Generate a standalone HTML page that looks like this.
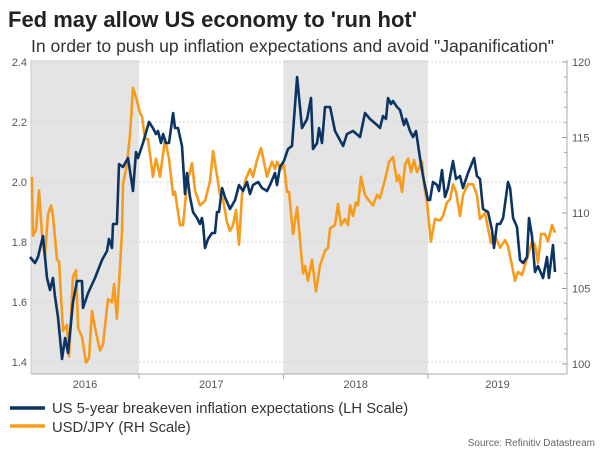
<!DOCTYPE html>
<html><head><meta charset="utf-8"><style>
body{margin:0;background:#fff;font-family:"Liberation Sans",sans-serif}
#wrap{position:relative;width:600px;height:450px;overflow:hidden}
</style></head><body>
<div id="wrap">
<svg id="chart" width="600" height="450" font-family="Liberation Sans, sans-serif">
<text x="8" y="27" font-size="22" font-weight="bold" fill="#222">Fed may allow US economy to 'run hot'</text>
<text x="31" y="52" font-size="17.6" fill="#333">In order to push up inflation expectations and avoid "Japanification"</text>
<g id="plot"></g>
<line x1="10" y1="408" x2="45" y2="408" stroke="#0b3463" stroke-width="3.5"/>
<text x="52" y="413" font-size="14.8" fill="#333">US 5-year breakeven inflation expectations (LH Scale)</text>
<line x1="10" y1="426" x2="45" y2="426" stroke="#f89b1c" stroke-width="3.5"/>
<text x="52" y="432" font-size="14.8" fill="#333">USD/JPY (RH Scale)</text>
<text x="595" y="446" font-size="10" fill="#666" text-anchor="end">Source: Refinitiv Datastream</text>
</svg>
</div>
<script>
// months since Jan 2016
const blueMonths=[2.95,3.36,3.61,4.03,4.36,4.61,4.86,5.02,5.27,5.61,5.86,6.11,6.52,6.85,7.27,7.35,7.77,8.35,8.93,9.34,9.51,9.76,9.84,10.17,10.34,10.67,11.09,11.50,11.75,11.92,12.33,12.83,13.16,13.41,13.58,13.83,14.00,14.24,14.49,14.83,14.99,15.24,15.57,15.82,15.99,16.24,16.49,16.82,17.07,17.23,17.32,17.48,17.73,18.07,18.31,18.48,18.65,18.90,19.14,19.56,19.98,20.31,20.64,20.97,21.22,21.47,21.89,22.22,22.63,22.88,23.30,23.46,23.71,24.04,24.38,24.71,25.13,25.54,25.96,26.29,26.45,26.79,26.95,27.20,27.45,27.87,28.28,28.95,29.28,29.78,30.36,30.77,31.19,31.77,32.02,32.27,32.52,32.68,32.93,33.10,33.43,33.68,34.01,34.18,34.51,34.76,35.01,35.34,35.59,36.00,36.17,36.42,36.75,36.92,37.17,37.42,37.67,38.08,38.33,38.66,38.91,39.33,39.83,40.07,40.32,40.57,40.99,41.32,41.49,41.74,41.99,42.24,42.65,42.82,43.07,43.40,43.65,43.90,44.23,44.39,44.64,44.89,45.14,45.56,45.89,46.05,46.39,46.55];
const blueValues=[1.75,1.73,1.75,1.82,1.68,1.64,1.68,1.62,1.55,1.41,1.48,1.43,1.60,1.67,1.67,1.58,1.63,1.68,1.74,1.77,1.81,1.78,1.86,1.86,2.06,2.05,2.08,1.97,2.10,2.08,2.13,2.20,2.18,2.16,2.17,2.13,2.16,2.13,2.13,2.23,2.18,2.18,2.12,1.96,2.03,1.95,1.90,1.88,1.86,1.88,1.86,1.78,1.81,1.83,1.83,1.90,1.90,1.98,1.95,1.91,1.94,1.99,1.97,2.00,1.96,1.99,2.00,1.98,1.97,1.99,2.03,1.99,2.05,2.07,2.11,2.12,2.35,2.18,2.21,2.28,2.11,2.13,2.18,2.13,2.25,2.25,2.17,2.12,2.16,2.17,2.15,2.23,2.21,2.19,2.18,2.22,2.21,2.28,2.26,2.27,2.25,2.24,2.19,2.21,2.17,2.15,2.17,2.08,2.02,1.94,1.94,2.00,1.99,1.97,2.04,1.95,1.98,2.07,2.01,2.02,1.98,2.03,2.08,2.02,2.01,1.91,1.90,1.84,1.78,1.86,1.86,1.88,2.00,1.98,1.88,1.85,1.74,1.73,1.75,1.88,1.82,1.70,1.72,1.68,1.75,1.68,1.79,1.70];
const orangeMonths=[3.11,3.20,3.45,3.70,3.95,4.19,4.44,4.69,4.86,5.19,5.36,5.69,6.02,6.19,6.52,6.77,6.94,7.27,7.60,7.85,8.10,8.35,8.76,9.01,9.43,9.76,9.93,10.17,10.59,10.67,11.00,11.25,11.50,11.84,12.09,12.25,12.50,12.75,13.16,13.41,13.75,14.16,14.49,14.83,14.99,15.41,15.66,15.99,16.40,16.65,17.07,17.48,17.90,18.15,18.48,18.73,18.98,19.31,19.56,19.81,20.06,20.31,20.56,20.89,21.22,21.47,21.80,22.13,22.30,22.63,23.05,23.30,23.46,23.80,24.04,24.29,24.46,24.79,25.13,25.62,25.79,26.04,26.37,26.70,27.03,27.45,27.70,27.87,28.28,28.53,28.78,29.11,29.36,29.53,29.78,30.02,30.19,30.44,30.77,31.02,31.44,31.77,32.02,32.43,32.77,33.10,33.43,33.60,33.85,34.10,34.35,34.60,34.84,35.09,35.51,35.67,35.92,36.25,36.59,37.00,37.25,37.58,37.83,38.08,38.33,38.66,38.91,39.33,39.74,40.07,40.32,40.74,41.24,41.57,41.99,42.40,42.65,42.99,43.23,43.48,43.81,44.31,44.64,44.89,45.14,45.39,45.72,45.97,46.30,46.55];
const orangeValues=[112.4,108.5,108.9,111.5,108.5,107.1,109.9,110.5,109.8,106.9,106.8,102.2,102.6,100.5,105.8,106.2,102.4,101.8,100.1,100.4,103.5,102.4,100.9,101.3,104.3,104.1,105.3,103.0,108.7,111.9,113.2,115.1,118.3,117.4,116.6,116.4,114.9,114.9,112.4,113.6,112.4,114.9,113.6,111.2,111.4,109.2,109.2,111.9,113.3,111.5,110.5,110.8,112.1,114.1,112.5,111.2,110.9,109.4,108.8,109.2,110.2,107.9,111.2,112.3,112.9,112.4,113.5,114.3,113.7,112.4,113.4,112.9,113.4,112.9,113.2,111.4,111.4,108.6,110.4,106.0,106.5,105.5,106.9,104.8,106.5,107.5,107.7,109.0,109.2,110.6,109.2,109.6,109.2,110.5,109.8,110.7,110.5,112.4,111.2,110.9,110.5,111.2,111.0,112.2,113.4,113.7,112.1,112.5,111.4,113.2,113.6,112.7,113.5,112.7,113.4,111.9,110.7,108.1,109.6,109.5,109.8,110.7,110.9,111.9,111.4,109.8,111.2,111.9,111.9,111.2,109.6,110.0,108.0,108.5,107.7,108.2,107.8,106.5,105.5,106.1,105.9,107.2,108.1,107.9,106.7,108.6,108.6,108.1,109.2,108.7];
const leftTicks=[1.4,1.6,1.8,2.0,2.2,2.4];
const leftTickLabels=["1.4","1.6","1.8","2.0","2.2","2.4"];
const rightTicks=[100,105,110,115,120];
const rightTickLabels=["100","105","110","115","120"];
const yearLabels=["2016","2017","2018","2019"];
const yearStarts=[0,12,24,36];

const X0=31,X1=567,Y0=62,Y1=362,AX=374;
const xs=m=>-5.5+m*12.04;
const yL=v=>Y1-(v-1.4)/(2.4-1.4)*(Y1-Y0);
const yR=v=>Y1+2-(v-100)/(120-100)*(Y1+2-Y0);
const NS="http://www.w3.org/2000/svg";
const plot=document.getElementById('plot');
function mk(tag,attrs){const e=document.createElementNS(NS,tag);for(const k in attrs)e.setAttribute(k,attrs[k]);plot.appendChild(e);return e;}

[0,2].forEach(i=>{
 const a=Math.max(X0,xs(yearStarts[i])),b=Math.min(X1,xs(yearStarts[i]+12));
 const r=mk('rect',{x:a,y:Y0-2,width:b-a,height:AX-Y0+2,fill:'#e4e4e4'});
 
 
});
leftTicks.forEach((v,i)=>{
 const g=mk('line',{x1:X0,x2:X1,y1:yL(v),y2:yL(v),stroke:'#d4d4d4','stroke-dasharray':'2,2','stroke-width':1});
 
 
 const t=mk('text',{x:27,y:yL(v)+4,'font-size':11,fill:'#555','text-anchor':'end'});
 t.textContent=leftTickLabels[i];
 
 
});
rightTicks.forEach((v,i)=>{
 const t=mk('text',{x:572,y:yR(v)+4,'font-size':11,fill:'#555'});
 t.textContent=rightTickLabels[i];
 
 
 const k=mk('line',{x1:X1,x2:X1-5,y1:yR(v),y2:yR(v),stroke:'#999'});
 
 
 if(i<rightTicks.length-1){
  for(let j=1;j<5;j++){const vv=v+j;const m=mk('line',{x1:X1,x2:X1-3,y1:yR(vv),y2:yR(vv),stroke:'#aaa'});
  
  }
 }
});
let ax=mk('line',{x1:X0,x2:X1,y1:AX,y2:AX,stroke:'#aaa'});


ax=mk('line',{x1:X1,x2:X1,y1:Y0-2,y2:AX,stroke:'#aaa'});


ax=mk('line',{x1:X0,x2:X0,y1:Y0-2,y2:AX,stroke:'#ccc'});


yearLabels.forEach((y,i)=>{
 if(i>0){const k=mk('line',{x1:xs(yearStarts[i]),x2:xs(yearStarts[i]),y1:AX,y2:AX+5,stroke:'#aaa'});
 
 }
 const a=Math.max(X0,xs(yearStarts[i])),b=Math.min(X1,xs(yearStarts[i]+12));
 const t=mk('text',{x:(a+b)/2,y:388,'font-size':11,fill:'#555','text-anchor':'middle'});
 t.textContent=y;
 
 
});
const pB=mk('path',{d:blueMonths.map((m,i)=>(i?'L':'M')+xs(m).toFixed(1)+','+yL(blueValues[i]).toFixed(1)).join(''),fill:'none',stroke:'#0b3463','stroke-width':2.6,'stroke-linejoin':'round'});


const pO=mk('path',{d:orangeMonths.map((m,i)=>(i?'L':'M')+xs(m).toFixed(1)+','+yR(orangeValues[i]).toFixed(1)).join(''),fill:'none',stroke:'#f89b1c','stroke-width':2.6,'stroke-linejoin':'round'});


plot.appendChild(pB);
</script>
</body></html>
